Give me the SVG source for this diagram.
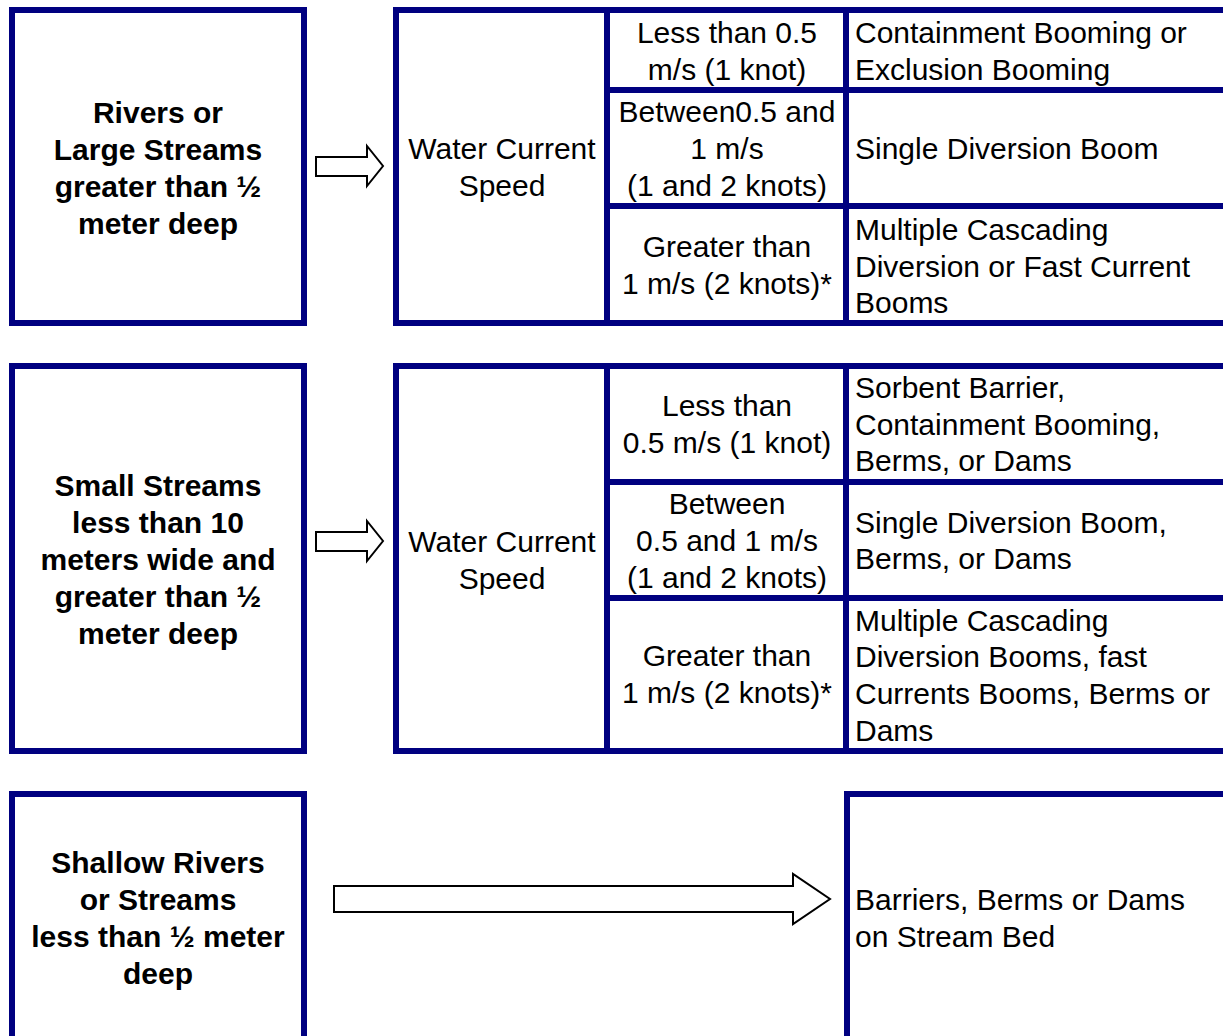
<svg xmlns="http://www.w3.org/2000/svg" width="1223" height="1036" viewBox="0 0 1223 1036">
<style>
.box{fill:#fff;stroke:#000080;stroke-width:6}
.ln{stroke:#000080;stroke-width:6;fill:none}
.arr{fill:#fff;stroke:#000;stroke-width:2;stroke-linejoin:miter}
text{font-family:"Liberation Sans",Arial,sans-serif;font-size:30px;fill:#000}
.b{font-weight:bold}
.c{text-anchor:middle}
</style>
<rect width="1223" height="1036" fill="#fff"/>
<g id="node-rivers">
<rect class="box" x="12" y="10" width="292" height="313"/>
<text class="b c" x="158" y="123">Rivers or</text>
<text class="b c" x="158" y="160">Large Streams</text>
<text class="b c" x="158" y="197">greater than ½</text>
<text class="b c" x="158" y="234">meter deep</text>
</g>
<g id="node-table1">
<rect class="box" x="396" y="10" width="840" height="313"/>
<line class="ln" x1="607" y1="10" x2="607" y2="323"/>
<line class="ln" x1="846" y1="10" x2="846" y2="323"/>
<line class="ln" x1="607" y1="90" x2="1230" y2="90"/>
<line class="ln" x1="607" y1="206" x2="1230" y2="206"/>
<text class="c" x="502" y="159">Water Current</text>
<text class="c" x="502" y="196">Speed</text>
<text class="c" x="727" y="43">Less than 0.5</text>
<text class="c" x="727" y="80">m/s (1 knot)</text>
<text class="c" x="727" y="122">Between0.5 and</text>
<text class="c" x="727" y="159">1 m/s</text>
<text class="c" x="727" y="196">(1 and 2 knots)</text>
<text class="c" x="727" y="257">Greater than</text>
<text class="c" x="727" y="294">1 m/s (2 knots)*</text>
<text x="855" y="43">Containment Booming or</text>
<text x="855" y="80">Exclusion Booming</text>
<text x="855" y="159">Single Diversion Boom</text>
<text x="855" y="240">Multiple Cascading</text>
<text x="855" y="277">Diversion or Fast Current</text>
<text x="855" y="313">Booms</text>
</g>
<g id="node-small">
<rect class="box" x="12" y="366" width="292" height="385"/>
<text class="b c" x="158" y="496">Small Streams</text>
<text class="b c" x="158" y="533">less than 10</text>
<text class="b c" x="158" y="570">meters wide and</text>
<text class="b c" x="158" y="607">greater than ½</text>
<text class="b c" x="158" y="644">meter deep</text>
</g>
<g id="node-table2">
<rect class="box" x="396" y="366" width="840" height="385"/>
<line class="ln" x1="607" y1="366" x2="607" y2="751"/>
<line class="ln" x1="846" y1="366" x2="846" y2="751"/>
<line class="ln" x1="607" y1="482" x2="1230" y2="482"/>
<line class="ln" x1="607" y1="598" x2="1230" y2="598"/>
<text class="c" x="502" y="552">Water Current</text>
<text class="c" x="502" y="589">Speed</text>
<text class="c" x="727" y="416">Less than</text>
<text class="c" x="727" y="453">0.5 m/s (1 knot)</text>
<text class="c" x="727" y="514">Between</text>
<text class="c" x="727" y="551">0.5 and 1 m/s</text>
<text class="c" x="727" y="588">(1 and 2 knots)</text>
<text class="c" x="727" y="666">Greater than</text>
<text class="c" x="727" y="703">1 m/s (2 knots)*</text>
<text x="855" y="398">Sorbent Barrier,</text>
<text x="855" y="435">Containment Booming,</text>
<text x="855" y="471">Berms, or Dams</text>
<text x="855" y="533">Single Diversion Boom,</text>
<text x="855" y="569">Berms, or Dams</text>
<text x="855" y="631">Multiple Cascading</text>
<text x="855" y="667">Diversion Booms, fast</text>
<text x="855" y="704">Currents Booms, Berms or</text>
<text x="855" y="741">Dams</text>
</g>
<g id="node-shallow">
<rect class="box" x="12" y="794" width="292" height="320"/>
<text class="b c" x="158" y="873">Shallow Rivers</text>
<text class="b c" x="158" y="910">or Streams</text>
<text class="b c" x="158" y="947">less than ½ meter</text>
<text class="b c" x="158" y="984">deep</text>
</g>
<g id="node-barriers">
<rect class="box" x="847" y="794" width="400" height="320"/>
<text x="855" y="910">Barriers, Berms or Dams</text>
<text x="855" y="947">on Stream Bed</text>
</g>
<g id="connectors">
<path class="arr" d="M316,157 H367 V146 L383,166 L367,186 V176 H316 Z"/>
<path class="arr" d="M316,532 H367 V521 L383,541 L367,561 V551 H316 Z"/>
<path class="arr" d="M334,886 H793 V874 L830,899 L793,924 V912 H334 Z"/>
</g>
</svg>
